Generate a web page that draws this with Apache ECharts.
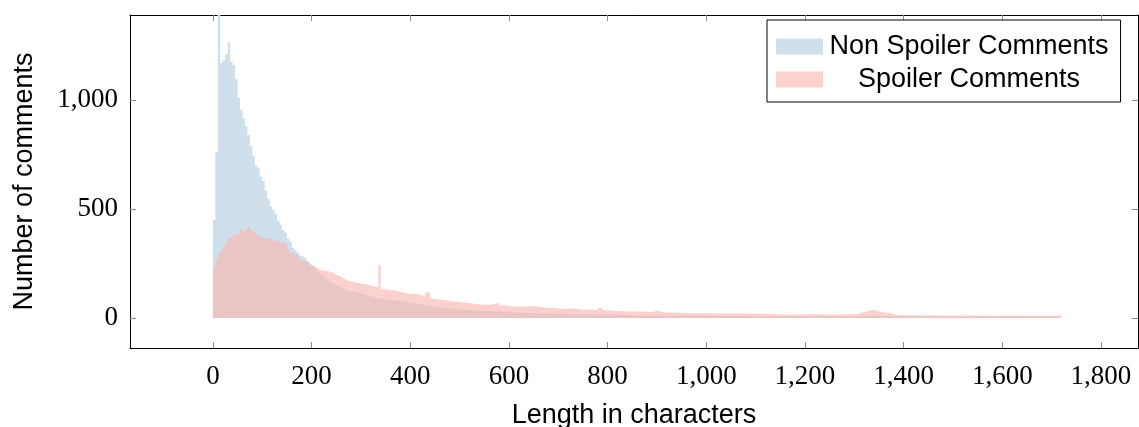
<!DOCTYPE html>
<html>
<head>
<meta charset="utf-8">
<script src="https://cdn.jsdelivr.net/npm/echarts@6/dist/echarts.min.js"></script>
<style>html,body{margin:0;background:#fff}#main{width:1139px;height:427px}</style>
</head>
<body>
<div id="main"></div>
<script>
// histogram bins: 5 chars wide up to 400, then 10 chars wide up to 1720
var headStep = 5
var tailStart = 400
var tailStep = 10
var tailEnd = 1720

var nonSpoilerHead = [
  450, 760, 1450, 1170, 1185, 1210, 1265, 1175, 1160, 1095,
  1010, 955, 915, 880, 840, 790, 745, 700, 688, 648,
  628, 585, 548, 512, 496, 478, 445, 428, 402, 392,
  365, 352, 322, 312, 298, 285, 280, 272, 262, 250,
  240, 228, 214, 200, 192, 181, 172, 163, 157, 151,
  147, 139, 135, 129, 125, 121, 120, 117, 115, 112,
  110, 105, 103, 98, 97, 93, 91, 90, 88, 85,
  85, 83, 82, 79, 78, 76, 75, 72, 70, 67
]
var spoilerHead = [
  230, 272, 290, 308, 330, 352, 368, 362, 378, 385,
  392, 410, 398, 405, 420, 402, 395, 386, 376, 370,
  364, 360, 362, 368, 354, 358, 350, 344, 346, 338,
  316, 298, 302, 290, 282, 268, 262, 258, 254, 240,
  238, 232, 224, 220, 218, 214, 220, 210, 206, 198,
  192, 190, 182, 176, 170, 168, 166, 163, 160, 158,
  156, 154, 152, 150, 147, 143, 140, 243, 132, 130,
  130, 128, 127, 125, 123, 120, 118, 115, 112, 110
]
var nonSpoilerTail = [
  66, 63, 60, 57, 53, 50, 46, 44, 41, 39,
  38, 36, 34, 33, 32, 31, 30, 29, 28, 27,
  26, 25, 24, 23, 23, 22, 21, 20, 20, 19,
  18, 18, 17, 17, 17, 16, 16, 15, 15, 14,
  14, 13, 13, 13, 12, 12, 12, 11, 11, 11,
  11, 10, 10, 10, 10, 10, 9, 10, 9, 9,
  9, 9, 9, 9, 9, 9, 9, 8, 9, 8,
  8, 8, 8, 8, 8, 8, 8, 8, 8, 8,
  8, 8, 8, 8, 8, 8, 8, 8, 8, 8,
  9, 10, 11, 12, 10, 9, 8, 8, 7, 7,
  7, 7, 7, 7, 7, 7, 7, 7, 7, 7,
  7, 7, 7, 7, 7, 7, 7, 7, 7, 7,
  7, 7, 7, 7, 7, 7, 6, 6, 6, 6,
  6, 6
]
var spoilerTail = [
  110, 105, 100, 117, 88, 84, 82, 78, 75, 73,
  71, 68, 65, 63, 60, 60, 63, 70, 58, 55,
  53, 52, 52, 53, 55, 51, 49, 47, 45, 43,
  41, 42, 44, 41, 38, 37, 37, 36, 46, 35,
  33, 32, 31, 30, 29, 29, 29, 28, 27, 33,
  27, 25, 24, 24, 23, 22, 22, 21, 21, 22,
  21, 21, 20, 21, 20, 21, 20, 19, 20, 19,
  20, 19, 18, 17, 16, 15, 14, 15, 16, 16,
  17, 17, 16, 15, 15, 15, 16, 16, 17, 17,
  20, 26, 33, 38, 30, 26, 24, 17, 13, 12,
  12, 12, 11, 11, 12, 11, 11, 11, 11, 11,
  11, 11, 10, 11, 11, 10, 11, 10, 10, 11,
  10, 10, 11, 10, 10, 10, 10, 10, 10, 10,
  10, 10
]

var xTicks = [0, 200, 400, 600, 800, 1000, 1200, 1400, 1600, 1800]
var yTicks = [0, 500, 1000]

function toSteps(head, tail) {
  var pts = []
  head.forEach(function (v, i) { pts.push([i * headStep, v]) })
  tail.forEach(function (v, i) { pts.push([tailStart + i * tailStep, v]) })
  pts.push([tailEnd, tail[tail.length - 1]])
  return pts
}

function fmt(v) {
  return String(v).replace(/\B(?=(\d{3})+(?!\d))/g, ',')
}

var serif = '"Liberation Serif", "DejaVu Serif", serif'
var sans = '"Liberation Sans", "DejaVu Sans", sans-serif'

function ticks(values) {
  return { show: true, inside: true, length: 6, customValues: values, lineStyle: { color: '#8c8c8c', width: 1 } }
}
function frame() {
  return { show: true, onZero: false, lineStyle: { color: '#000', width: 1 } }
}

var chart = echarts.init(document.getElementById('main'))
chart.setOption({
  animation: false,
  grid: { left: 130, right: 1, top: 15, bottom: 79, outerBoundsMode: 'none', containLabel: false },
  legend: {
    orient: 'vertical',
    left: 767, top: 20,
    padding: [13, 12, 9, 9],
    itemGap: 6,
    itemWidth: 47, itemHeight: 16,
    borderColor: '#000', borderWidth: 1,
    backgroundColor: '#fff',
    formatter: function (name) { return '{c|' + name + '}' },
    textStyle: {
      fontFamily: sans, fontSize: 27, color: '#000',
      rich: { c: { width: 282, align: 'center', fontFamily: sans, fontSize: 27, color: '#000' } }
    },
    data: [
      { name: 'Non Spoiler Comments', icon: 'rect', itemStyle: { color: '#cfdfec' } },
      { name: 'Spoiler Comments', icon: 'rect', itemStyle: { color: '#fad1cc' } }
    ]
  },
  xAxis: [{
    type: 'value', min: -168, max: 1875,
    name: 'Length in characters', nameLocation: 'middle', nameGap: 54,
    nameTextStyle: { fontFamily: sans, fontSize: 27, color: '#000' },
    axisLine: frame(),
    splitLine: { show: false },
    axisTick: ticks(xTicks),
    axisLabel: { customValues: xTicks, formatter: fmt, margin: 15, fontFamily: serif, fontSize: 27, color: '#000' }
  }, {
    type: 'value', position: 'top', min: -168, max: 1875,
    axisLine: frame(), splitLine: { show: false },
    axisTick: ticks(xTicks),
    axisLabel: { show: false }
  }],
  yAxis: [{
    type: 'value', min: -138, max: 1390,
    name: 'Number of comments', nameLocation: 'middle', nameGap: 92,
    nameTextStyle: { fontFamily: sans, fontSize: 27, color: '#000' },
    axisLine: frame(),
    splitLine: { show: false },
    axisTick: ticks(yTicks),
    axisLabel: { customValues: yTicks, formatter: fmt, margin: 12, fontFamily: serif, fontSize: 27, color: '#000' }
  }, {
    type: 'value', position: 'right', min: -138, max: 1390,
    axisLine: frame(), splitLine: { show: false },
    axisTick: ticks(yTicks),
    axisLabel: { show: false }
  }],
  series: [{
    name: 'Non Spoiler Comments',
    type: 'line', step: 'end', showSymbol: false, clip: true,
    color: '#cfdfec',
    lineStyle: { width: 0 },
    areaStyle: { color: '#cfdfec', opacity: 1 },
    data: toSteps(nonSpoilerHead, nonSpoilerTail)
  }, {
    name: 'Spoiler Comments',
    type: 'line', step: 'end', showSymbol: false, clip: true,
    color: '#f8b9b1',
    lineStyle: { width: 0 },
    areaStyle: { color: '#f8b9b1', opacity: 0.65 },
    data: toSteps(spoilerHead, spoilerTail)
  }]
})
</script>
</body>
</html>
